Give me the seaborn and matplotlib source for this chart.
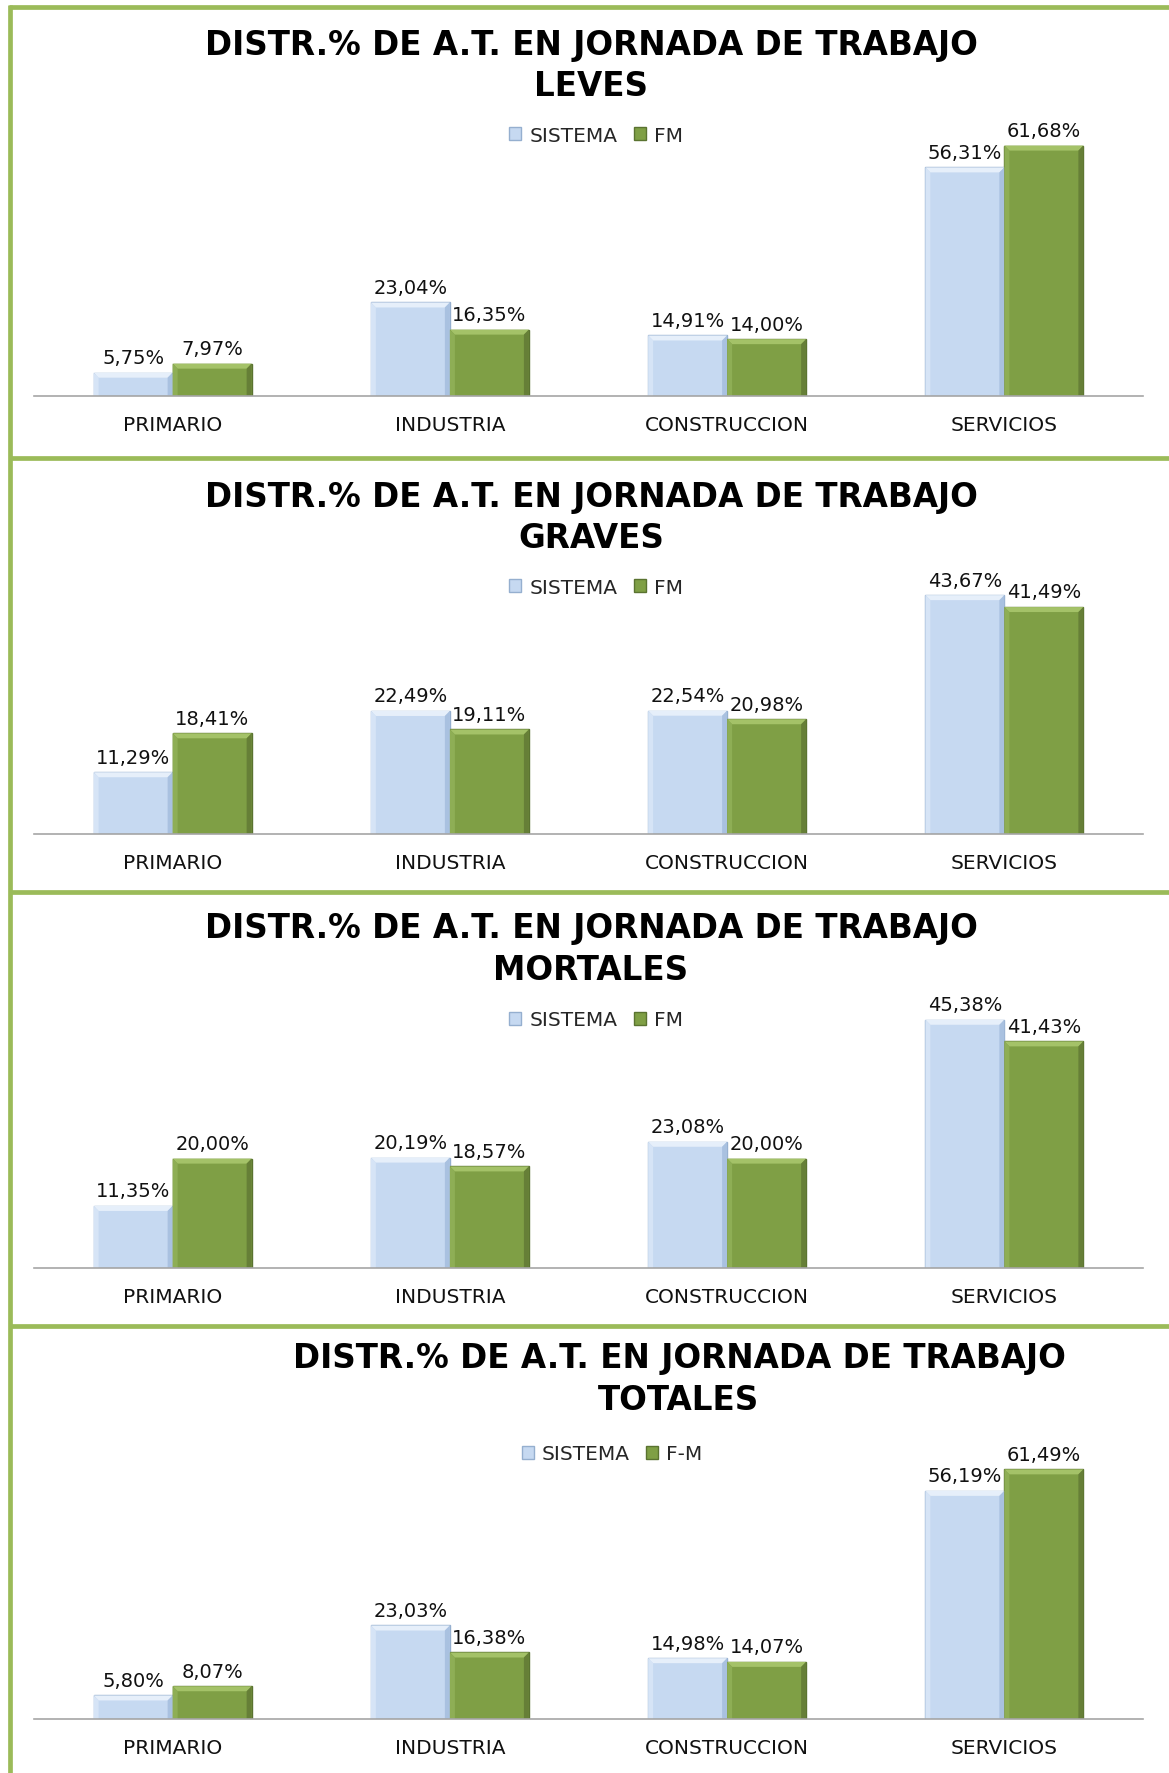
import numpy as np
import pandas as pd
import matplotlib.pyplot as plt
import seaborn as sns
from matplotlib.patches import Patch, Polygon
from matplotlib.lines import Line2D

sns.set_theme(style="white")
plt.rcParams['font.family'] = ['DejaVu Sans']

CATEGORIAS = ["PRIMARIO", "INDUSTRIA", "CONSTRUCCION", "SERVICIOS"]

LEVES_SISTEMA = [5.75, 23.04, 14.91, 56.31]
LEVES_FM = [7.97, 16.35, 14.00, 61.68]
GRAVES_SISTEMA = [11.29, 22.49, 22.54, 43.67]
GRAVES_FM = [18.41, 19.11, 20.98, 41.49]
MORTALES_SISTEMA = [11.35, 20.19, 23.08, 45.38]
MORTALES_FM = [20.00, 18.57, 20.00, 41.43]
TOTALES_SISTEMA = [5.80, 23.03, 14.98, 56.19]
TOTALES_FM = [8.07, 16.38, 14.07, 61.49]

SUBTITULOS = ["LEVES", "GRAVES", "MORTALES", "TOTALES"]
NOMBRES_FM = ["FM", "FM", "FM", "F-M"]

COLOR_SIS = "#C6D9F1"
EDGE_SIS = "#95AFCF"
COLOR_FM = "#7F9F45"
EDGE_FM = "#5A7330"
# biseles: arriba, izquierda, derecha
BISEL_SIS = ["#E6EFFA", "#D6E4F6", "#A9C1E0"]
BISEL_FM = ["#A4C268", "#8EAE55", "#667F37"]
VERDE_BORDE = "#9BBB59"

W, H = 1169, 1774

PANELES = [
    dict(top=8, t1=45, t2=86, ly=136, lx=596, tx=591, base=397, esc=4.06, ymax=68),
    dict(top=459, t1=498, t2=539, ly=588, lx=596, tx=591, base=835, esc=5.47, ymax=50),
    dict(top=893, t1=929, t2=971, ly=1021, lx=596, tx=591, base=1269, esc=5.47, ymax=50),
    dict(top=1327, t1=1359, t2=1401, ly=1455, lx=612, tx=679, base=1720, esc=4.06, ymax=68),
]
DATOS = [(LEVES_SISTEMA, LEVES_FM), (GRAVES_SISTEMA, GRAVES_FM),
         (MORTALES_SISTEMA, MORTALES_FM), (TOTALES_SISTEMA, TOTALES_FM)]

fig = plt.figure(figsize=(W / 100, H / 100), dpi=100)
fig.patch.set_facecolor("white")

AX_L, AX_R = 34, 1143
BISEL_PX = 5


def fmt(v):
    return f"{v:.2f}".replace(".", ",") + "%"


def biselar(ax, b, colores, esc):
    # pequeño bisel estilo Excel alrededor de cada barra
    x0, y0 = b.get_x(), b.get_y()
    x1, y1 = x0 + b.get_width(), y0 + b.get_height()
    dx = BISEL_PX / ((AX_R - AX_L) / 4)
    dy = min(BISEL_PX / esc, (y1 - y0) / 2.5)
    caras = [
        [(x0, y1), (x1, y1), (x1 - dx, y1 - dy), (x0 + dx, y1 - dy)],
        [(x0, y0), (x0, y1), (x0 + dx, y1 - dy), (x0 + dx, y0)],
        [(x1, y0), (x1, y1), (x1 - dx, y1 - dy), (x1 - dx, y0)],
    ]
    for cara, c in zip(caras, colores):
        ax.add_patch(Polygon(cara, closed=True, facecolor=c, edgecolor="none", zorder=b.get_zorder() + 0.1))


for i, (cfg, (sis, fm)) in enumerate(zip(PANELES, DATOS)):
    nombre_fm = NOMBRES_FM[i]
    df = pd.DataFrame({
        "cat": CATEGORIAS * 2,
        "serie": ["SISTEMA"] * 4 + [nombre_fm] * 4,
        "valor": sis + fm,
    })
    alto = cfg["ymax"] * cfg["esc"]
    ax = fig.add_axes([AX_L / W, 1 - cfg["base"] / H, (AX_R - AX_L) / W, alto / H])
    sns.barplot(data=df, x="cat", y="valor", hue="serie", order=CATEGORIAS,
                hue_order=["SISTEMA", nombre_fm], palette=[COLOR_SIS, COLOR_FM],
                width=0.57, dodge=True, legend=False, ax=ax, saturation=1)
    for j, bars in enumerate(ax.containers):
        edge = EDGE_SIS if j == 0 else EDGE_FM
        for b in bars:
            b.set_edgecolor(edge)
            b.set_linewidth(1.0)
            biselar(ax, b, BISEL_SIS if j == 0 else BISEL_FM, cfg["esc"])
        ax.bar_label(bars, labels=[fmt(v) for v in (sis if j == 0 else fm)],
                     padding=4, fontsize=14, color="#111111")
    ax.set_ylim(0, cfg["ymax"])
    ax.set_xlim(-0.5, 3.5)
    ax.set_xlabel("")
    ax.set_ylabel("")
    ax.set_yticks([])
    ax.tick_params(axis="x", length=0, pad=14, labelsize=14.5, labelcolor="#111111")
    for s in ["top", "left", "right"]:
        ax.spines[s].set_visible(False)
    ax.spines["bottom"].set_color("#A6A6A6")
    ax.spines["bottom"].set_linewidth(1.2)
    ax.patch.set_alpha(0)

    fig.text(cfg["tx"] / W, 1 - cfg["t1"] / H, "DISTR.% DE A.T. EN JORNADA DE TRABAJO",
             ha="center", va="center", fontsize=23.5, fontweight="bold", color="#000000")
    fig.text(cfg["tx"] / W, 1 - cfg["t2"] / H, SUBTITULOS[i],
             ha="center", va="center", fontsize=23.5, fontweight="bold", color="#000000")

    handles = [Patch(facecolor=COLOR_SIS, edgecolor=EDGE_SIS, label="SISTEMA"),
               Patch(facecolor=COLOR_FM, edgecolor=EDGE_FM, label=nombre_fm)]
    fig.legend(handles=handles, loc="center", ncol=2, frameon=False, fontsize=14.5,
               bbox_to_anchor=(cfg["lx"] / W, 1 - cfg["ly"] / H),
               handlelength=0.6, handleheight=0.6, handletextpad=0.4, columnspacing=0.8)

    # borde verde superior del panel
    fig.add_artist(Line2D([9 / W, 1], [1 - cfg["top"] / H] * 2, color=VERDE_BORDE,
                          lw=3.4, transform=fig.transFigure, solid_capstyle="butt"))

# borde verde izquierdo
fig.add_artist(Line2D([10 / W, 10 / W], [1 - 6 / H, 0], color=VERDE_BORDE,
                      lw=3.4, transform=fig.transFigure, solid_capstyle="butt"))

fig.savefig("out.png", dpi=100, facecolor="white")
